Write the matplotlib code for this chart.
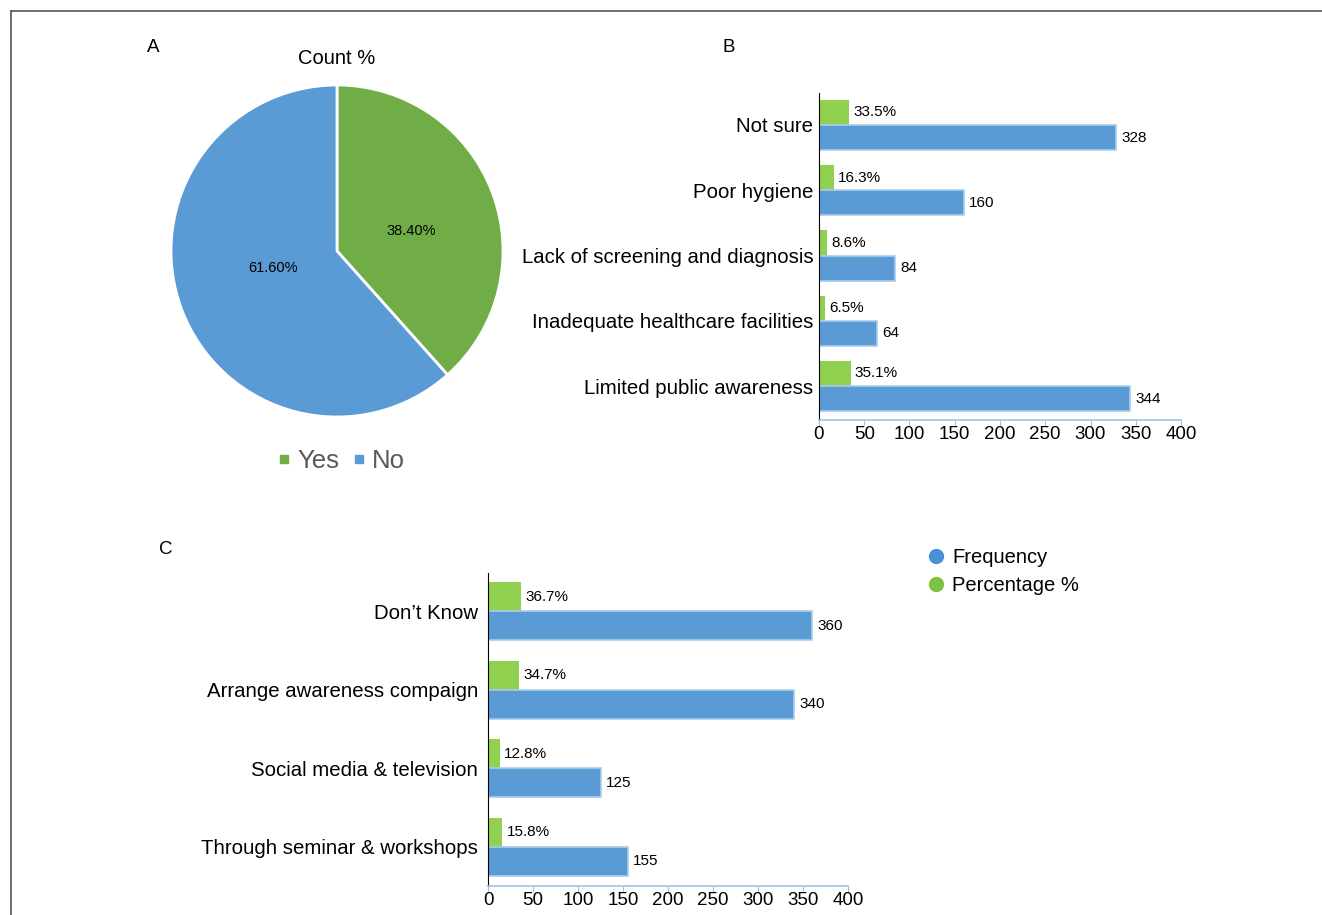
import matplotlib
matplotlib.use('Agg')
import numpy as np
import matplotlib.pyplot as plt
from matplotlib.lines import Line2D

plt.rcParams['font.family'] = ['Liberation Sans', 'DejaVu Sans']

# A: pie
pie_labels = ['Yes', 'No']
pie_values = [38.4, 61.6]

# B: reasons
reasons = ['Not sure', 'Poor hygiene', 'Lack of screening and diagnosis',
           'Inadequate healthcare facilities', 'Limited public awareness']
reasons_freq = [328, 160, 84, 64, 344]
reasons_pct = [33.5, 16.3, 8.6, 6.5, 35.1]

# C: ways to raise awareness
ways = ['Don\u2019t Know', 'Arrange awareness compaign',
        'Social media & television', 'Through seminar & workshops']
ways_freq = [360, 340, 125, 155]
ways_pct = [36.7, 34.7, 12.8, 15.8]

x_ticks = [0, 50, 100, 150, 200, 250, 300, 350, 400]

BLUE = '#5B9BD5'
BLUE_EDGE = '#A9CCEB'
GREEN = '#92D050'
PIE_GREEN = '#70AD47'

W, H = 1322, 915
fig = plt.figure(figsize=(W / 100, H / 100), dpi=100)


def px_axes(left, top, right, bottom):
    return fig.add_axes([left / W, 1 - bottom / H, (right - left) / W, (bottom - top) / H])


# frame lines
fig.add_artist(Line2D([11 / W, 11 / W], [0, 1 - 11 / H], color='#555555', lw=1.2))
fig.add_artist(Line2D([11 / W, 1], [1 - 11 / H, 1 - 11 / H], color='#555555', lw=1.2))

# ---- A ----
ax_a = px_axes(337 - 166, 251 - 166, 337 + 166, 251 + 166)
wedges, _, autotexts = ax_a.pie(pie_values, colors=[PIE_GREEN, BLUE], startangle=90,
                                counterclock=False, autopct='%.2f%%', pctdistance=0.46,
                                wedgeprops=dict(edgecolor='white', linewidth=2),
                                textprops=dict(fontsize=10.5, color='black'))
autotexts[0].set_position((0.445, 0.12))
autotexts[1].set_position((-0.385, -0.10))
ax_a.set_xlim(-1.0, 1.0)
ax_a.set_ylim(-1.0, 1.0)
ax_a.set_aspect('equal')
fig.text(337 / W, 1 - 59 / H, 'Count %', fontsize=14.5, ha='center', va='center')
handles = [Line2D([], [], marker='s', ls='', color=c, markersize=6) for c in [PIE_GREEN, BLUE]]
fig.legend(handles, pie_labels, loc='center', bbox_to_anchor=(338 / W, 1 - 461 / H),
           ncol=2, frameon=False, fontsize=18.5, handletextpad=0.0, columnspacing=0.25,
           labelcolor='#595959', handlelength=1.0)


def hbars(ax, cats, freq, pct, h, top_pad, bot_pad, label_pad):
    n = len(cats)
    y = np.arange(n)
    ax.barh(y - h / 2, pct, height=h, color=GREEN, edgecolor='none')
    ax.barh(y + h / 2, freq, height=h, color=BLUE, edgecolor=BLUE_EDGE, linewidth=1.2)
    for yi, p, f in zip(y, pct, freq):
        ax.annotate(f'{p}%', (p, yi - h / 2), xytext=(3, 0), textcoords='offset points',
                    va='center', fontsize=11)
        ax.annotate(f'{f}', (f, yi + h / 2), xytext=(4, 0), textcoords='offset points',
                    va='center', fontsize=11)
    ax.set_ylim(n - 1 + bot_pad, -top_pad)
    ax.set_xlim(0, 400)
    ax.set_xticks(x_ticks)
    ax.set_yticks(y)
    ax.set_yticklabels(cats, fontsize=14.7)
    ax.tick_params(axis='y', length=0, pad=label_pad)
    ax.tick_params(axis='x', labelsize=13.5, color='#9DC3E6', length=4, pad=0.5)
    for s in ['top', 'right']:
        ax.spines[s].set_visible(False)
    ax.spines['left'].set_color('black')
    ax.spines['bottom'].set_color('#9DC3E6')
    ax.spines['bottom'].set_linewidth(1.2)


# ---- B ----
ax_b = px_axes(819, 93, 1181, 420)
hbars(ax_b, reasons, reasons_freq, reasons_pct, 0.385, 0.49, 0.52, 4)

# ---- C ----
ax_c = px_axes(488, 573, 848, 886)
hbars(ax_c, ways, ways_freq, ways_pct, 0.37, 0.49, 0.5, 7)
leg_handles = [Line2D([], [], marker='o', ls='', color=c, markersize=10)
               for c in ['#4A90D9', '#7CC243']]
fig.legend(leg_handles, ['Frequency', 'Percentage %'], loc='upper left',
           bbox_to_anchor=(906 / W, 1 - 530 / H), frameon=False, fontsize=14.5,
           handletextpad=0.2, labelspacing=0.42, handlelength=1.2)

# panel letters
for txt, x, y in [('A', 153, 47), ('B', 729, 47), ('C', 166, 550)]:
    fig.text(x / W, 1 - y / H, txt, fontsize=13.5, ha='center', va='center')

fig.savefig('out.png', dpi=100)
